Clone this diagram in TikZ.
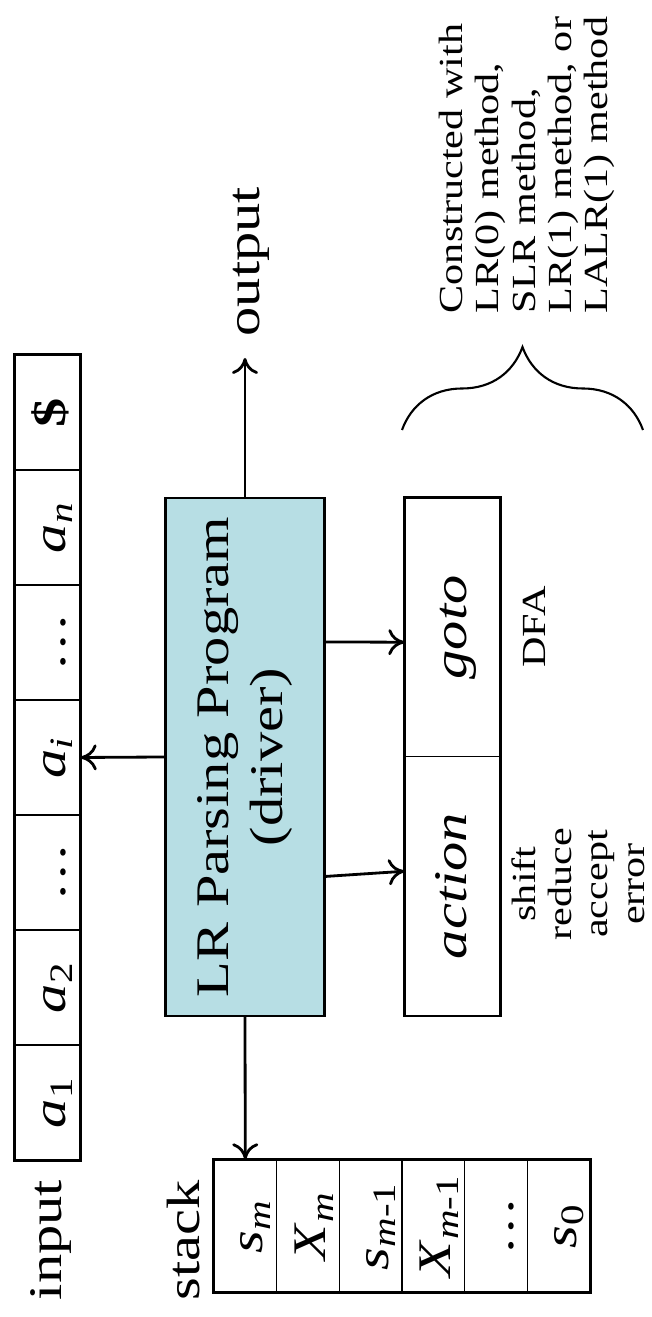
\documentclass[tikz,border=0pt]{standalone}
\usepackage{fontspec}
\setmainfont[FakeStretch=1.25, ItalicFont={Liberation Serif Italic}, BoldFont={Liberation Serif Bold}]{Liberation Serif}
\usetikzlibrary{arrows.meta,decorations.pathreplacing}
\definecolor{driverblue}{RGB}{183,222,228}

\begin{document}
\begin{tikzpicture}[rotate=90, transform shape]
  \tikzstyle{cell} = [rectangle, draw, thin, minimum width=1.15cm, minimum height=0.65cm, inner sep=0pt, text height=11pt, text depth=1pt, font=\fontsize{13.3}{16}\selectfont]
  \tikzstyle{slot} = [cell, minimum width=1.32cm, minimum height=0.627cm]
  \tikzstyle{tab} = [cell, minimum width=2.585cm, minimum height=0.95cm, text height=10pt, text depth=2pt]
  \tikzstyle{txt} = [inner sep=0pt, font=\fontsize{13.3}{16}\selectfont]
  \tikzstyle{note} = [inner sep=0pt, font=\fontsize{9.6}{10.3}\selectfont]
  \tikzstyle{arrow} = [thick, -{To[length=1.6mm, width=2.6mm]}]
  \tikzstyle{curly} = [semithick, decorate, decoration={brace, amplitude=0.83cm}]

  \useasboundingbox (0,0) rectangle (13.17,6.51);

  % Input tape
  \node [txt, anchor=base] (input) at (0.77,5.89) {input};
  \node [cell] (a1) at (2.145,6.035) {\textit{a}\textsubscript{1}};
  \node [cell] (a2) at (3.295,6.035) {\textit{a}\textsubscript{2}};
  \node [cell] (d1) at (4.445,6.035) {\dots};
  \node [cell] (ai) at (5.595,6.035) {\textit{a}\textsubscript{\textit{i}}};
  \node [cell] (d2) at (6.745,6.035) {\dots};
  \node [cell] (an) at (7.895,6.035) {\textit{a}\textsubscript{\textit{n}}};
  \node [cell] (end) at (9.045,6.035) {\textbf{\$}};
  \draw [thick] (a1.south west) rectangle (end.north east);

  % Stack
  \node [txt, anchor=base] (stack) at (0.77,4.51) {stack};
  \node [slot] (sm) at (0.91,4.057) {\textit{s}\textsubscript{\textit{m}}};
  \node [slot] (xm) at (0.91,3.430) {\textit{X}\textsubscript{\textit{m}}};
  \node [slot] (smm) at (0.91,2.803) {\textit{s}\textsubscript{\textit{m}-1}};
  \node [slot] (xmm) at (0.91,2.176) {\textit{X}\textsubscript{\textit{m}-1}};
  \node [slot] (sd) at (0.91,1.549) {\dots};
  \node [slot] (s0) at (0.91,0.922) {\textit{s}\textsubscript{0}};
  \draw [thick] (s0.south west) rectangle (sm.north east);

  % Driver
  \node [rectangle, draw, semithick, fill=driverblue, minimum width=5.18cm, minimum height=1.59cm, align=center, font=\fontsize{13.3}{15.3}\selectfont] (driver) at (5.60,4.06) {LR Parsing Program\\(driver)};
  \coordinate (outtip) at (9.59,4.06);
  \node [txt, anchor=west] (output) at (9.80,4.00) {output};

  % Parsing table
  \node [tab] (action) at (4.31,1.985) {\textit{action}};
  \node [tab] (goto) at (6.895,1.985) {\textit{goto}};
  \draw [thick] (action.south west) rectangle (goto.north east);
  \node [note, anchor=north, align=center] (acts) at (4.33,1.40) {shift\\reduce\\accept\\error};
  \node [note, anchor=north] (dfa) at (6.90,1.28) {DFA};

  % Brace and methods
  \coordinate (bracetop) at (8.87,2.49);
  \coordinate (bracebot) at (8.87,0.08);
  \draw [curly] (bracetop) -- (bracebot);
  \node [note, anchor=west, align=left] (methods) at (10.03,1.24)
    {Constructed with\\LR(0) method,\\SLR method,\\LR(1) method, or\\LALR(1) method};

  % Arrows
  \draw [arrow] (driver.north) -- (ai.south);
  \draw [arrow] (driver.west) -- (sm.east);
  \draw [arrow] (driver.east) -- (outtip);
  \draw [arrow] (driver.214.7) -- (action.73.6);
  \draw [arrow] (driver.325.3) -- (goto.107);

\end{tikzpicture}
\end{document}
